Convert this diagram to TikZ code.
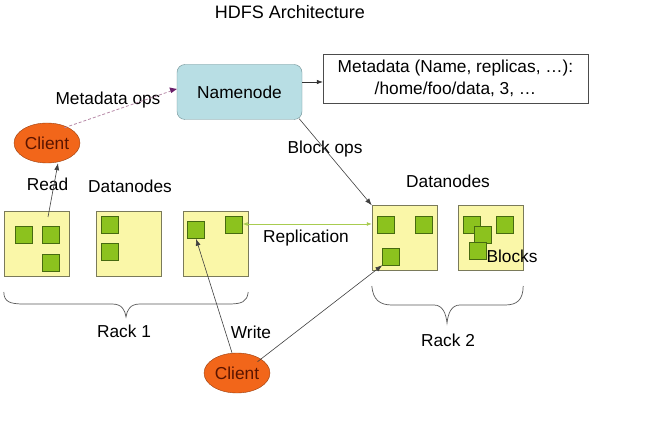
\documentclass[tikz,border=0pt]{standalone}
\usepackage{fontspec}
\setmainfont{Liberation Sans}
\usetikzlibrary{arrows.meta,shapes.geometric}
\definecolor{nnfill}{HTML}{B8DEE4}
\definecolor{nnline}{HTML}{6F8F94}
\definecolor{dnfill}{HTML}{FAF7A8}
\definecolor{dnline}{HTML}{7A7A5A}
\definecolor{blkfill}{HTML}{8CC21E}
\definecolor{blkline}{HTML}{466A10}
\definecolor{clfill}{HTML}{F2661A}
\definecolor{clline}{HTML}{9A4010}
\definecolor{cltext}{HTML}{5A1400}
\definecolor{mdops}{HTML}{B88AA8}
\definecolor{mdtip}{HTML}{6A1F6A}
\definecolor{repl}{HTML}{A8CC50}
\begin{document}
\begin{tikzpicture}[x=1pt,y=-1pt,
  every node/.style={font=\fontsize{17.3}{22}\selectfont, inner sep=0pt},
  namebox/.style={draw=nnline, fill=nnfill, rounded corners=8pt, minimum width=125pt, minimum height=55pt},
  metabox/.style={draw=black!70, fill=white, minimum width=265pt, minimum height=49pt, align=center},
  dnbox/.style={draw=dnline, fill=dnfill, minimum width=65pt, minimum height=65pt},
  blk/.style={draw=blkline, fill=blkfill, minimum width=17pt, minimum height=17pt},
  client/.style={ellipse, draw=clline, fill=clfill, text=cltext, minimum width=66pt, minimum height=40pt},
  lbl/.style={text=black},
  conn/.style={draw=black!75, line width=0.6pt, -{Latex[length=7pt,width=5pt]}},
  brace/.style={draw=black!65, line width=0.7pt}
]
\useasboundingbox (0,0) rectangle (650,435);
\fill[white] (0,0) rectangle (650,435);

\node[lbl, font=\fontsize{18}{21}\selectfont] (title) at (290,12) {HDFS Architecture};

\node[namebox] (nn) at (239.5,92) {Namenode};
\node[metabox] (md) at (455.5,78.5) {Metadata (Name, replicas, \dots):\\/home/foo/data, 3, \dots};

\node[client] (c1) at (47,143) {Client};
\node[client] (c2) at (237,373) {Client};

% datanodes rack 1
\node[dnbox] (d1) at (36.5,243.5) {};
\node[dnbox] (d2) at (129,243.5) {};
\node[dnbox] (d3) at (215.5,243.5) {};
% datanodes rack 2
\node[dnbox] (d4) at (404.5,238) {};
\node[dnbox] (d5) at (490.5,238) {};

% blocks
\node[blk] (b1a) at (23.5,235) {};
\node[blk] (b1b) at (50.5,235) {};
\node[blk] (b1c) at (50.5,262.5) {};
\node[blk] (b2a) at (109.5,224.5) {};
\node[blk] (b2b) at (109.5,251.5) {};
\node[blk] (b3a) at (196,230) {};
\node[blk] (b3b) at (234,224.5) {};
\node[blk] (b4a) at (385.5,224.5) {};
\node[blk] (b4b) at (423.5,224.5) {};
\node[blk] (b4c) at (391,256.5) {};
\node[blk] (b5a) at (471.5,224.5) {};
\node[blk] (b5b) at (504.5,224.5) {};
\node[blk] (b5c) at (482.5,235) {};
\node[blk] (b5d) at (477.5,251) {};

% labels
\node[lbl] (lmd) at (108,100) {Metadata ops};
\node[lbl] (lread) at (47.5,184) {Read};
\node[lbl] (ldn1) at (130,186) {Datanodes};
\node[lbl] (lbo) at (325,149) {Block ops};
\node[lbl] (ldn2) at (448,181) {Datanodes};
\node[lbl] (lrep) at (306,238) {Replication};
\node[lbl] (lblk) at (512,256) {Blocks};
\node[lbl] (lr1) at (124,331) {Rack 1};
\node[lbl] (lr2) at (448,340) {Rack 2};
\node[lbl] (lwr) at (251,332) {Write};

% connectors
\draw[-{Latex[length=6pt,width=4.5pt]}, draw=black!80, line width=0.6pt] (nn.east |- 0,82) -- (md.west |- 0,82);
\draw[draw=mdops, line width=0.8pt, dash pattern=on 3pt off 2pt] (c1.north east) ++(-6,-1) coordinate (ms) -- (nn.west |- 0,89) coordinate (me);
\fill[mdtip] (me) -- ++(-7.5,-1.5) -- ++(2,5.5) -- cycle;
\coordinate (rs) at (48,217);
\draw[conn] (rs) -- (c1.south -| 58,0);
\draw[conn] (nn.south east) ++(-3,-1) -- (d4.north west);
\draw[draw=repl, line width=0.8pt, {Latex[length=5pt,width=4pt]}-{Latex[length=5pt,width=4pt]}] (b3b.east |- 0,224) -- (d4.west |- 0,224);
\draw[conn] (c2.north) ++(-5,0) -- (b3a.south);
\draw[conn] (c2.north east) ++(-3,3) -- (b4c.south west);

% braces
\draw[brace] (d1.south west |- 0,292) .. controls (4,302) and (10,304) .. (24,304)
  -- (112,304) .. controls (122,304) and (125,310) .. (126,317)
  .. controls (127,310) and (130,304) .. (140,304) -- (228,304)
  .. controls (242,304) and (247,302) .. (d3.south east |- 0,292);
\draw[brace] (d4.south west |- 0,286) .. controls (373,300) and (380,305) .. (392,305)
  -- (434,305) .. controls (443,305) and (446,314) .. (447,323)
  .. controls (448,314) and (451,305) .. (460,305) -- (505,305)
  .. controls (517,305) and (523,300) .. (d5.south east |- 0,286);
\end{tikzpicture}
\end{document}
